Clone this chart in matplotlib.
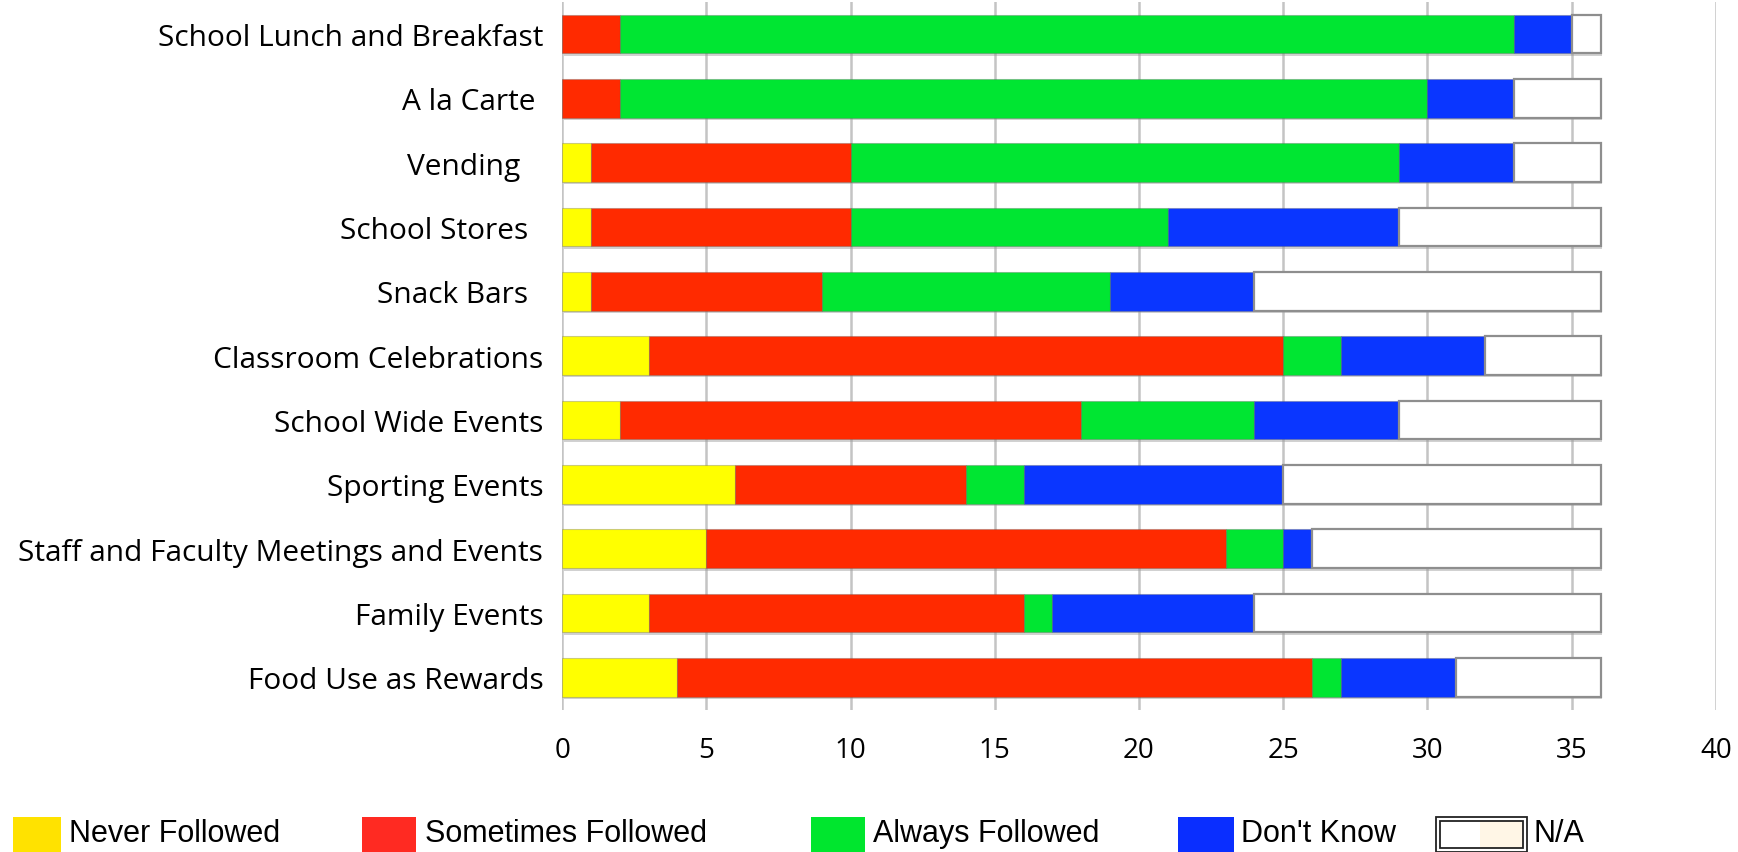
import numpy as np
import matplotlib.pyplot as plt
import matplotlib.patheffects as pe
from matplotlib.patches import Rectangle

# ============================================================
# School nutrition policy: how often guidelines are followed,
# by food venue / occasion (number of schools)
# ============================================================

categories = [
    "School Lunch and Breakfast",
    "A la Carte",
    "Vending",
    "School Stores",
    "Snack Bars",
    "Classroom Celebrations",
    "School Wide Events",
    "Sporting Events",
    "Staff and Faculty Meetings and Events",
    "Family Events",
    "Food Use as Rewards",
]
# trailing padding on a few labels, as typed in the source sheet
label_pad = [0, 1, 3, 2, 2, 0, 0, 0, 0, 0, 0]

never_followed = [0, 0, 1, 1, 1, 3, 2, 6, 5, 3, 4]
sometimes_followed = [2, 2, 9, 9, 8, 22, 16, 8, 18, 13, 22]
always_followed = [31, 28, 19, 11, 10, 2, 6, 2, 2, 1, 1]
dont_know = [2, 3, 4, 8, 5, 5, 5, 9, 1, 7, 4]
not_applicable = [1, 3, 3, 7, 12, 4, 7, 11, 10, 12, 5]

series_names = ["Never Followed", "Sometimes Followed", "Always Followed", "Don't Know", "N/A"]
bar_colors = ["#ffff00", "#ff2a00", "#00e632", "#0a36ff", "#ffffff"]
legend_colors = ["#ffe200", "#ff2a22", "#00e62e", "#0a2eff", "#ffffff"]

series = [never_followed, sometimes_followed, always_followed, dont_know, not_applicable]

plt.rcParams["font.family"] = ["Open Sans", "DejaVu Sans"]

fig = plt.figure(figsize=(17.38, 8.53), dpi=100)
ax = fig.add_axes([0.3234, 0.167, 0.6639, 0.8297])

shadow = [pe.SimplePatchShadow(offset=(1.2, -1.8), shadow_rgbFace="#9a9a9a", alpha=0.45),
          pe.Normal()]

y = np.arange(len(categories))
left = np.zeros(len(categories))
for vals, col, name in zip(series, bar_colors, series_names):
    vals = np.array(vals, dtype=float)
    if name == "N/A":
        ax.barh(y, vals, left=left, height=0.6, color=col,
                edgecolor="#8e8e8e", linewidth=1.6, zorder=3, path_effects=shadow)
    else:
        ax.barh(y, vals, left=left, height=0.6, color=col,
                edgecolor=(0.35, 0.35, 0.35, 0.3), linewidth=0.8, zorder=3,
                path_effects=shadow)
    left += vals

ax.set_xlim(0, 40)
ax.set_ylim(len(categories) - 0.5, -0.5)
ax.set_xticks(np.arange(0, 41, 5))
ax.set_yticks(y)
ax.set_yticklabels([c + " " * p for c, p in zip(categories, label_pad)],
                   fontsize=21.5, fontweight="medium")
ax.set_xticklabels([str(v) for v in range(0, 41, 5)], fontsize=20, fontweight="medium")
ax.tick_params(axis="y", length=0, pad=13.5)
ax.tick_params(axis="x", length=0, pad=19)
ax.xaxis.grid(True, color="#c4c4c4", linewidth=1.8, zorder=0)
ax.set_axisbelow(True)
for s in ax.spines.values():
    s.set_visible(False)

# legend row along the bottom edge
sw_x = [13, 362, 811, 1178, 1436]
sw_w = [48, 54, 54, 56, 91]
txt_x = [69, 425, 873, 1241, 1533]
W, H = 1738.0, 853.0
for i, name in enumerate(series_names):
    x0 = sw_x[i] / W
    y0 = 0.0
    h = 35 / H
    if name == "N/A":
        fig.add_artist(Rectangle((x0 + 4 / W, y0 + 4 / H), sw_w[i] / W - 8 / W, h - 8 / H,
                                 transform=fig.transFigure, facecolor="#fff6e6",
                                 edgecolor="none"))
        fig.add_artist(Rectangle((x0 + 4 / W, y0 + 4 / H), 40 / W, h - 8 / H,
                                 transform=fig.transFigure, facecolor="white",
                                 edgecolor="none"))
        fig.add_artist(Rectangle((x0, y0), sw_w[i] / W, h, transform=fig.transFigure,
                                 facecolor="none", edgecolor="#222222", linewidth=1.3))
        fig.add_artist(Rectangle((x0 + 4 / W, y0 + 4 / H), sw_w[i] / W - 8 / W, h - 8 / H,
                                 transform=fig.transFigure, facecolor="none",
                                 edgecolor="#222222", linewidth=1.3))
    else:
        fig.add_artist(Rectangle((x0, y0), sw_w[i] / W, h, transform=fig.transFigure,
                                 facecolor=legend_colors[i], edgecolor="none"))
    fig.text(txt_x[i] / W, (H - 834) / H, name, fontsize=22, va="center", ha="left",
             family=["Liberation Sans", "DejaVu Sans"])

fig.savefig("out.png", dpi=100)
